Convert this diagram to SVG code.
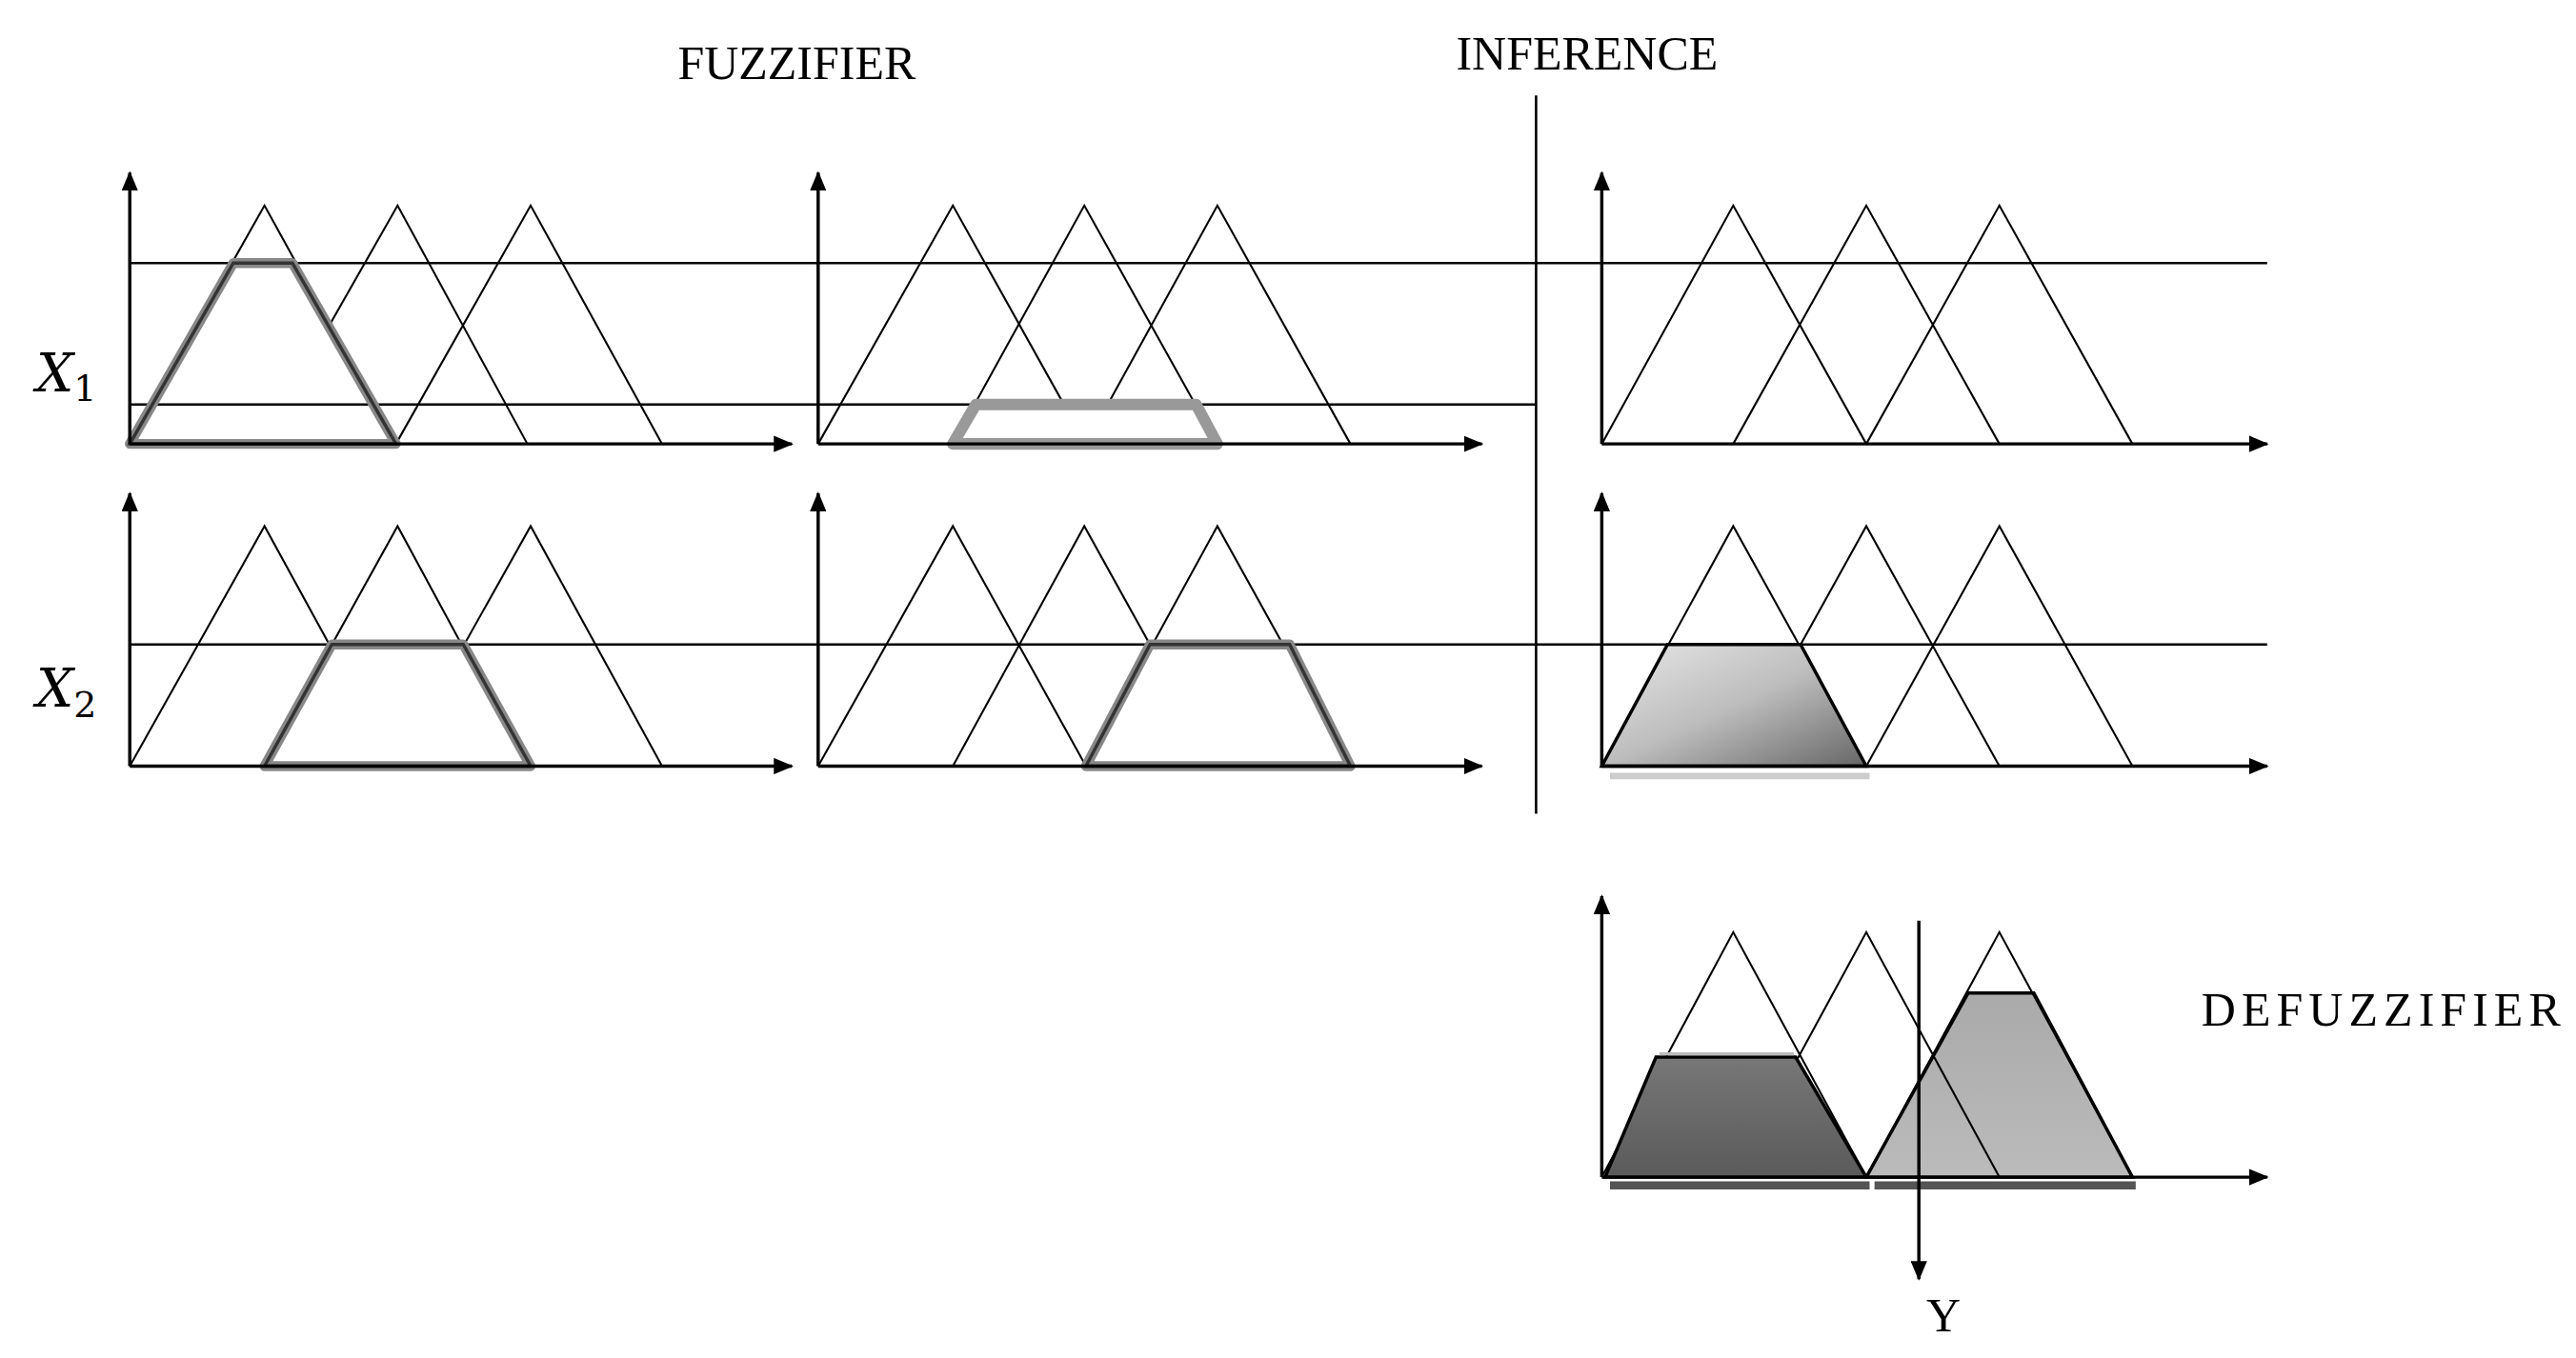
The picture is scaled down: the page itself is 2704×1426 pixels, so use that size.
<svg xmlns="http://www.w3.org/2000/svg" width="2704" height="1426" viewBox="0 0 2704 1426">
<defs>
<marker id="ar" markerWidth="12" markerHeight="10" refX="11" refY="5" orient="auto" markerUnits="userSpaceOnUse"><path d="M0,0 L12,5 L0,10 Z" fill="#000"/></marker>
<linearGradient id="g1" x1="0" y1="0" x2="1" y2="1"><stop offset="0" stop-color="#e8e8e8"/><stop offset="0.5" stop-color="#bdbdbd"/><stop offset="1" stop-color="#666"/></linearGradient>
<linearGradient id="g2" x1="0" y1="0" x2="0" y2="1"><stop offset="0" stop-color="#777"/><stop offset="1" stop-color="#5a5a5a"/></linearGradient>
<linearGradient id="g3" x1="0" y1="0" x2="0" y2="1"><stop offset="0" stop-color="#aaa"/><stop offset="1" stop-color="#bbb"/></linearGradient>
</defs>
<style>
.ax{stroke:#000;stroke-width:2;fill:none;marker-end:url(#ar)}
.tri{stroke:#000;stroke-width:1.2;fill:none}
.ln{stroke:#000;stroke-width:1.5;fill:none}
.hl{stroke:#888;stroke-width:6;fill:#fff;stroke-linejoin:round}
.hlc{stroke:#333;stroke-width:2;fill:none}
.t{font-family:"Liberation Serif",serif;font-size:29px;fill:#000}
.x{font-family:"DejaVu Serif","Liberation Serif",serif;font-style:italic;font-size:32px;fill:#000}
</style>
<rect width="2704" height="1426" fill="#fff"/>
<g transform="scale(1.7245,1.7264)">
<g id="labels">
<text class="t" x="485" y="48" text-anchor="middle">FUZZIFIER</text>
<text class="t" x="966" y="42" text-anchor="middle">INFERENCE</text>
<text class="t" x="1340" y="624" font-size="25" letter-spacing="3.5">DEFUZZIFIER</text>
<text class="t" x="1183" y="810" font-size="25" text-anchor="middle">Y</text>
<text class="x" x="22" y="238">X<tspan font-size="22" font-style="normal" dy="6">1</tspan></text>
<text class="x" x="22" y="430">X<tspan font-size="22" font-style="normal" dy="6">2</tspan></text>
</g>
<g id="connectors">
<line class="ln" x1="79" y1="160" x2="1380" y2="160"/>
<line class="ln" x1="79" y1="246" x2="935" y2="246"/>
<line class="ln" x1="79" y1="392" x2="1380" y2="392"/>
<line class="ln" x1="935" y1="58" x2="935" y2="495"/>
</g>
<g id="r1c1">
<path class="tri" d="M79,270 L161,125 L241,270 M201,197 L242,125 L321,270 M241,270 L323,125 L403,270"/>
<path class="hl" style="fill:none" d="M79,270 L142,160 L178,160 L241,270 Z"/>
<path class="hlc" d="M79,270 L142,160 L178,160 L241,270 Z"/>
<line class="ax" x1="79" y1="270" x2="79" y2="105"/><line class="ax" x1="79" y1="270" x2="482" y2="270"/>
</g>
<g id="r1c2">
<path class="tri" d="M498,270 L580,125 L661,270 M580,270 L660,125 L741,270 M661,270 L741,125 L822,270"/>
<path class="hl" style="stroke:#999;stroke-width:7" d="M580,270 L594,246 L728,246 L741,270 Z"/>
<line class="ax" x1="498" y1="270" x2="498" y2="105"/><line class="ax" x1="498" y1="270" x2="902" y2="270"/>
</g>
<g id="r1c3">
<path class="tri" d="M975,270 L1055,125 L1136,270 M1055,270 L1136,125 L1217,270 M1136,270 L1217,125 L1298,270"/>
<line class="ax" x1="975" y1="270" x2="975" y2="105"/><line class="ax" x1="975" y1="270" x2="1380" y2="270"/>
</g>
<g id="r2c1">
<path class="tri" d="M79,466 L161,320 L241,466 M161,466 L242,320 L321,466 M241,466 L323,320 L403,466"/>
<path class="hl" d="M161,466 L202,392 L282,392 L323,466 Z"/>
<path class="hlc" d="M161,466 L202,392 L282,392 L323,466 Z"/>
<line class="ax" x1="79" y1="466" x2="79" y2="300"/><line class="ax" x1="79" y1="466" x2="482" y2="466"/>
</g>
<g id="r2c2">
<path class="tri" d="M498,466 L580,320 L661,466 M580,466 L660,320 L741,466 M661,466 L741,320 L822,466"/>
<path class="hl" d="M661,466 L700,392 L785,392 L822,466 Z"/>
<path class="hlc" d="M661,466 L700,392 L785,392 L822,466 Z"/>
<line class="ax" x1="498" y1="466" x2="498" y2="300"/><line class="ax" x1="498" y1="466" x2="902" y2="466"/>
</g>
<g id="r2c3">
<path class="tri" d="M975,466 L1055,320 L1136,466 M1055,466 L1136,320 L1217,466 M1136,466 L1217,320 L1298,466"/>
<path d="M975,466 L1015,392 L1096,392 L1136,466 Z" fill="url(#g1)" stroke="#000" stroke-width="2"/>
<line x1="980" y1="472" x2="1138" y2="472" stroke="#ccc" stroke-width="4"/>
<line class="ax" x1="975" y1="466" x2="975" y2="300"/><line class="ax" x1="975" y1="466" x2="1380" y2="466"/>
</g>
<g id="defuzz">
<path d="M1136,716 L1198,604 L1238,604 L1298,716 Z" fill="url(#g3)" stroke="#000" stroke-width="2"/>
<path class="tri" d="M975,716 L1055,567 L1136,716 M1055,716 L1136,567 L1217,716 M1136,716 L1217,567 L1298,716"/>
<path d="M977,716 L1008,643 L1093,643 L1136,716 Z" fill="url(#g2)" stroke="#000" stroke-width="2"/>
<line x1="1010" y1="641" x2="1092" y2="641" stroke="#bbb" stroke-width="2"/>
<line x1="980" y1="721" x2="1138" y2="721" stroke="#555" stroke-width="5"/>
<line x1="1141" y1="721" x2="1300" y2="721" stroke="#555" stroke-width="5"/>
<line class="ax" x1="975" y1="716" x2="975" y2="545"/><line class="ax" x1="975" y1="716" x2="1380" y2="716"/>
<line class="ax" x1="1168" y1="560" x2="1168" y2="778"/>
</g>
</g>
</svg>
